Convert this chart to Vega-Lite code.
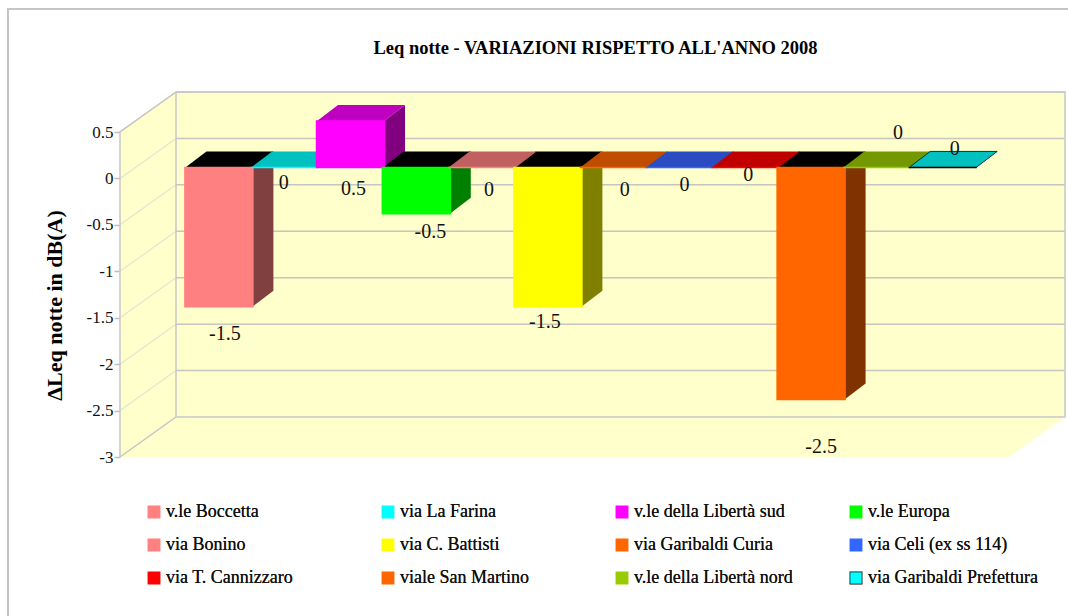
{
"$schema":"https://vega.github.io/schema/vega-lite/v6.json",
"width":889,"height":325,
"autosize":{"type":"none"},
"padding":{"left":120,"top":132,"right":59,"bottom":159},
"background":"#ffffff",
"config":{"view":{"stroke":null},"font":"Liberation Serif"},
"title":{"text":"Leq notte - VARIAZIONI RISPETTO ALL'ANNO 2008","font":"Liberation Serif","fontSize":18.5,"fontWeight":"bold","color":"#000","anchor":"middle","frame":"group","dx":31,"offset":-52},
"datasets":{
"bars":[
{"name":"v.le Boccetta","value":-1.5},
{"name":"via La Farina","value":0},
{"name":"v.le della Libertà sud","value":0.5},
{"name":"v.le Europa","value":-0.5},
{"name":"via Bonino","value":0},
{"name":"via C. Battisti","value":-1.5},
{"name":"via Garibaldi Curia","value":0},
{"name":"via Celi (ex ss 114)","value":0},
{"name":"via T. Cannizzaro","value":0},
{"name":"viale San Martino","value":-2.5},
{"name":"v.le della Libertà nord","value":0},
{"name":"via Garibaldi Prefettura","value":0}],
"levels":[{"level":0.5},{"level":0},{"level":-0.5},{"level":-1},{"level":-1.5},{"level":-2},{"level":-2.5}],
"floor":[{"level":-3}]
},
"encoding":{"x":{"field":"name","type":"nominal","axis":null,"scale":{"domain":["v.le Boccetta","via La Farina","v.le della Libertà sud","v.le Europa","via Bonino","via C. Battisti","via Garibaldi Curia","via Celi (ex ss 114)","via T. Cannizzaro","viale San Martino","v.le della Libertà nord","via Garibaldi Prefettura"],"range":[66,855.6],"paddingInner":0,"paddingOuter":0}}},
"layer":[
{"data":{"name":"floor"},
 "mark":{"type":"point","filled":true,"size":4,"opacity":1,"fill":"#ffffcc","strokeWidth":0,"clip":false,"shape":"M0,0L889,0L945,-40L945,-365L56,-365L0,-325Z"},
 "encoding":{"x":{"value":0},"y":{"field":"level","type":"quantitative","scale":{"domain":[-3,0.5],"nice":false,"zero":false},
  "axis":{"values":[0.5,0,-0.5,-1,-1.5,-2,-2.5,-3],"labelExpr":"replace(format(datum.value,'~g'),'−','-')","domain":false,"grid":false,"tickColor":"#bdbdbd","tickSize":6,"tickWidth":1.5,"labelFont":"Liberation Serif","labelFontSize":17,"labelColor":"#111","labelPadding":1,"title":"ΔLeq notte in dB(A)","titleFont":"Liberation Serif","titleFontSize":22,"titleFontWeight":"bold","titleColor":"#000","titleX":-59,"titleY":173,"titleAlign":"center","titleBaseline":"alphabetic","titleAngle":-90}}}},
{"data":{"name":"levels"},
 "mark":{"type":"point","filled":false,"size":4,"opacity":1,"stroke":"#e4e4d4","strokeWidth":1.2,"clip":false,"shape":"M0,0L56,-40"},
 "encoding":{"x":{"value":0},"y":{"field":"level","type":"quantitative","axis":null}}},
{"data":{"name":"levels"},
 "mark":{"type":"point","filled":false,"size":4,"opacity":1,"stroke":"#c6c6c0","strokeWidth":1.5,"clip":false,"shape":"M56,-40L945,-40"},
 "encoding":{"x":{"value":0},"y":{"field":"level","type":"quantitative","axis":null}}},
{"data":{"name":"floor"},
 "mark":{"type":"point","filled":false,"size":4,"opacity":1,"stroke":"#c6c6c6","strokeWidth":1.5,"clip":false,"shape":"M0,0L0,-325L56,-365L945,-365L945,-40L56,-40L0,0M56,-365L56,-40"},
 "encoding":{"x":{"value":0},"y":{"field":"level","type":"quantitative","axis":null}}},
{"data":{"name":"floor"},
 "mark":{"type":"point","filled":false,"size":4,"opacity":1,"stroke":"#c6c6c6","strokeWidth":2,"clip":false,"shape":"M-112,159L-112,-448L950,-448"},
 "encoding":{"x":{"value":0},"y":{"field":"level","type":"quantitative","axis":null}}},
{"data":{"name":"bars"},
 "transform":[{"filter":"datum.value !== 0"}],
 "mark":{"type":"point","filled":true,"size":4,"opacity":1,"strokeWidth":0,"yOffset":-11,"clip":false},
 "encoding":{
  "y":{"field":"value","type":"quantitative","axis":null},
  "shape":{"field":"value","type":"nominal","legend":null,"scale":{"domain":[-2.5,-1.5,-0.5,0.5],"range":["M33.5,0L54.5,-16L54.5,-248L33.5,-232Z","M33.5,0L54.5,-16L54.5,-155.4L33.5,-139.4Z","M33.5,0L54.5,-16L54.5,-62.5L33.5,-46.5Z","M33.5,0L54.5,-16L54.5,30.5L33.5,46.5Z"]}},
  "fill":{"field":"name","type":"nominal","legend":null,"scale":{"domain":["v.le Boccetta","v.le della Libertà sud","v.le Europa","via C. Battisti","viale San Martino"],"range":["#804040","#800080","#008000","#808000","#803300"]}}}},
{"data":{"name":"bars"},
 "transform":[{"filter":"datum.value < 0"}],
 "mark":{"type":"point","filled":true,"size":4,"opacity":1,"fill":"#000000","strokeWidth":0,"yOffset":-11,"clip":false,"shape":"M-33.5,0L-12.5,-16L54.5,-16L33.5,0Z"},
 "encoding":{"y":{"datum":0,"type":"quantitative","axis":null}}},
{"data":{"name":"bars"},
 "transform":[{"filter":"datum.value >= 0"}],
 "mark":{"type":"point","filled":true,"size":4,"opacity":1,"yOffset":-11,"clip":false,"strokeWidth":0,"shape":"M-33.5,0L-12.5,-16L54.5,-16L33.5,0Z"},
 "encoding":{
  "y":{"field":"value","type":"quantitative","axis":null},
  "fill":{"field":"name","type":"nominal","legend":null,"scale":{"domain":["via La Farina","v.le della Libertà sud","via Bonino","via Garibaldi Curia","via Celi (ex ss 114)","via T. Cannizzaro","v.le della Libertà nord","via Garibaldi Prefettura"],"range":["#00c0c0","#c000c0","#c06060","#c04c00","#2a4cc0","#c00000","#749900","#00c0c0"]}}}},
{"data":{"name":"bars"},
 "transform":[{"filter":"datum.name === 'via Garibaldi Prefettura'"}],
 "mark":{"type":"point","filled":false,"size":4,"opacity":1,"yOffset":-11,"clip":false,"stroke":"#003a3a","strokeWidth":1,"shape":"M-33.5,0L-12.5,-16L54.5,-16L33.5,0Z"},
 "encoding":{"y":{"field":"value","type":"quantitative","axis":null}}},
{"data":{"name":"bars"},
 "mark":{"type":"bar","width":68,"yOffset":-11,"y2Offset":-11,"clip":false,"strokeWidth":1.5},
 "encoding":{
  "y":{"field":"value","type":"quantitative","axis":null},
  "y2":{"datum":0},
  "stroke":{"field":"name","type":"nominal","sort":null,
   "scale":{"domain":["v.le Boccetta","via La Farina","v.le della Libertà sud","v.le Europa","via Bonino","via C. Battisti","via Garibaldi Curia","via Celi (ex ss 114)","via T. Cannizzaro","viale San Martino","v.le della Libertà nord","via Garibaldi Prefettura"],
    "range":["#ff8080","#00ffff","#ff00ff","#00ff00","#ff8080","#ffff00","#ff6600","#3366ff","#ff0000","#ff6600","#99cc00","#000000"]},
   "legend":{"orient":"none","legendX":25,"legendY":371,"columns":4,"direction":"horizontal","gridAlign":"all","title":null,"symbolType":"square","symbolSize":130,"symbolOpacity":1,"labelFont":"Liberation Serif","labelFontSize":18,"labelColor":"#111","labelLimit":230,"columnPadding":43,"rowPadding":15,"labelOffset":3}},
  "fill":{"field":"name","type":"nominal","sort":null,
   "scale":{"domain":["v.le Boccetta","via La Farina","v.le della Libertà sud","v.le Europa","via Bonino","via C. Battisti","via Garibaldi Curia","via Celi (ex ss 114)","via T. Cannizzaro","viale San Martino","v.le della Libertà nord","via Garibaldi Prefettura"],
    "range":["#ff8080","#00ffff","#ff00ff","#00ff00","#ff8080","#ffff00","#ff6600","#3366ff","#ff0000","#ff6600","#99cc00","#00ffff"]},
   "legend":{"orient":"none","legendX":25,"legendY":371,"columns":4,"direction":"horizontal","gridAlign":"all","title":null,"symbolType":"square","symbolSize":130,"symbolOpacity":1,"labelFont":"Liberation Serif","labelFontSize":18,"labelColor":"#111","labelLimit":230,"columnPadding":43,"rowPadding":15,"labelOffset":3}}}},
{"data":{"name":"bars"},"transform":[{"filter":"datum.name === 'v.le Boccetta'"}],"mark":{"type":"text","fontSize":20,"color":"#111","baseline":"middle","dx":6,"dy":16,"clip":false},"encoding":{"y":{"field":"value","type":"quantitative","axis":null},"text":{"field":"value","type":"nominal"}}},
{"data":{"name":"bars"},"transform":[{"filter":"datum.name === 'via La Farina'"}],"mark":{"type":"text","fontSize":20,"color":"#111","baseline":"middle","dx":-1,"dy":5,"clip":false},"encoding":{"y":{"field":"value","type":"quantitative","axis":null},"text":{"field":"value","type":"nominal"}}},
{"data":{"name":"bars"},"transform":[{"filter":"datum.name === 'v.le della Libertà sud'"}],"mark":{"type":"text","fontSize":20,"color":"#111","baseline":"middle","dx":3,"dy":57,"clip":false},"encoding":{"y":{"field":"value","type":"quantitative","axis":null},"text":{"field":"value","type":"nominal"}}},
{"data":{"name":"bars"},"transform":[{"filter":"datum.name === 'v.le Europa'"}],"mark":{"type":"text","fontSize":20,"color":"#111","baseline":"middle","dx":14,"dy":7,"clip":false},"encoding":{"y":{"field":"value","type":"quantitative","axis":null},"text":{"field":"value","type":"nominal"}}},
{"data":{"name":"bars"},"transform":[{"filter":"datum.name === 'via Bonino'"}],"mark":{"type":"text","fontSize":20,"color":"#111","baseline":"middle","dx":7,"dy":12,"clip":false},"encoding":{"y":{"field":"value","type":"quantitative","axis":null},"text":{"field":"value","type":"nominal"}}},
{"data":{"name":"bars"},"transform":[{"filter":"datum.name === 'via C. Battisti'"}],"mark":{"type":"text","fontSize":20,"color":"#111","baseline":"middle","dx":-3,"dy":4,"clip":false},"encoding":{"y":{"field":"value","type":"quantitative","axis":null},"text":{"field":"value","type":"nominal"}}},
{"data":{"name":"bars"},"transform":[{"filter":"datum.name === 'via Garibaldi Curia'"}],"mark":{"type":"text","fontSize":20,"color":"#111","baseline":"middle","dx":11,"dy":12,"clip":false},"encoding":{"y":{"field":"value","type":"quantitative","axis":null},"text":{"field":"value","type":"nominal"}}},
{"data":{"name":"bars"},"transform":[{"filter":"datum.name === 'via Celi (ex ss 114)'"}],"mark":{"type":"text","fontSize":20,"color":"#111","baseline":"middle","dx":5,"dy":7,"clip":false},"encoding":{"y":{"field":"value","type":"quantitative","axis":null},"text":{"field":"value","type":"nominal"}}},
{"data":{"name":"bars"},"transform":[{"filter":"datum.name === 'via T. Cannizzaro'"}],"mark":{"type":"text","fontSize":20,"color":"#111","baseline":"middle","dx":3,"dy":-3,"clip":false},"encoding":{"y":{"field":"value","type":"quantitative","axis":null},"text":{"field":"value","type":"nominal"}}},
{"data":{"name":"bars"},"transform":[{"filter":"datum.name === 'viale San Martino'"}],"mark":{"type":"text","fontSize":20,"color":"#111","baseline":"middle","dx":10,"dy":36,"clip":false},"encoding":{"y":{"field":"value","type":"quantitative","axis":null},"text":{"field":"value","type":"nominal"}}},
{"data":{"name":"bars"},"transform":[{"filter":"datum.name === 'v.le della Libertà nord'"}],"mark":{"type":"text","fontSize":20,"color":"#111","baseline":"middle","dx":21,"dy":-45,"clip":false},"encoding":{"y":{"field":"value","type":"quantitative","axis":null},"text":{"field":"value","type":"nominal"}}},
{"data":{"name":"bars"},"transform":[{"filter":"datum.name === 'via Garibaldi Prefettura'"}],"mark":{"type":"text","fontSize":20,"color":"#111","baseline":"middle","dx":12,"dy":-29,"clip":false},"encoding":{"y":{"field":"value","type":"quantitative","axis":null},"text":{"field":"value","type":"nominal"}}}
],
"resolve":{"scale":{"fill":"independent","shape":"independent"},"axis":{"y":"independent"}}
}
